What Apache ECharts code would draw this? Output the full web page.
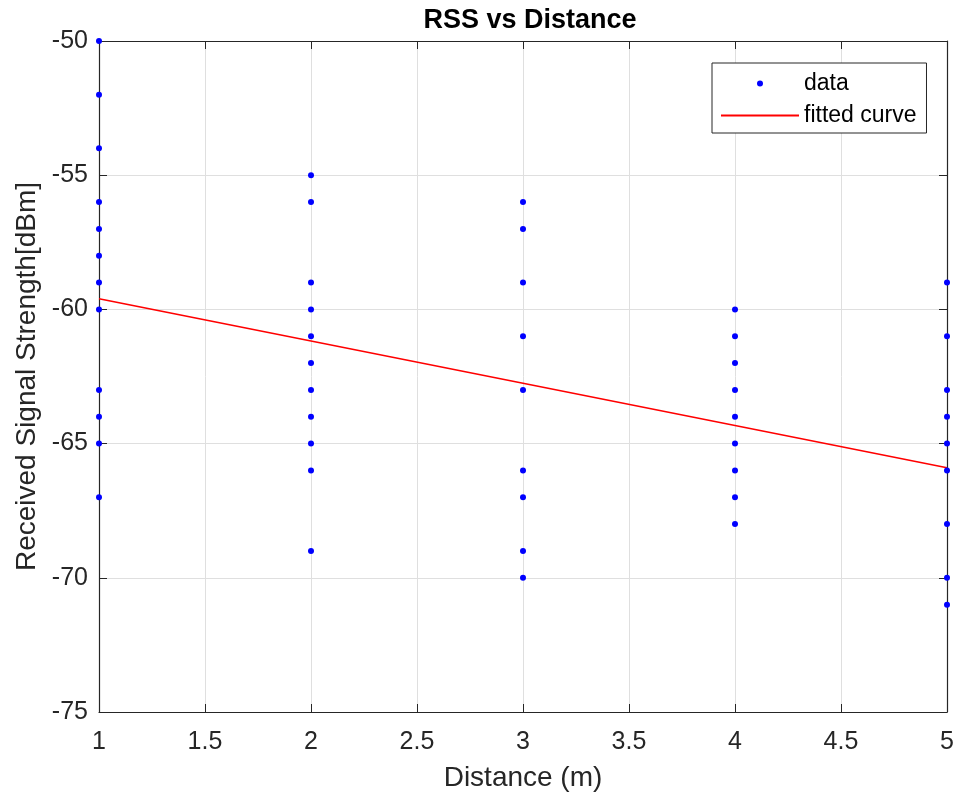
<!DOCTYPE html>
<html><head><meta charset="utf-8">
<script src="https://cdn.jsdelivr.net/npm/echarts@6/dist/echarts.min.js"></script>
<style>html,body{margin:0;padding:0;background:#fff}#c{width:957px;height:798px}</style>
</head><body><div id="c"></div>
<script>
// Measured data
var dist1 = [-50, -52, -54, -56, -57, -58, -59, -60, -63, -64, -65, -67];
var dist2 = [-55, -56, -59, -60, -61, -62, -63, -64, -65, -66, -69];
var dist3 = [-56, -57, -59, -61, -63, -66, -67, -69, -70];
var dist4 = [-60, -61, -62, -63, -64, -65, -66, -67, -68];
var dist5 = [-59, -61, -63, -64, -65, -66, -68, -70, -71];
var distances = [1, 2, 3, 4, 5];
var groups = [dist1, dist2, dist3, dist4, dist5];
// Fitted curve end points
var fitX = [1, 5];
var fitY = [-59.6, -65.9];

var scatterData = [];
groups.forEach(function (g, i) {
  g.forEach(function (v) { scatterData.push([distances[i], v]); });
});
var fitData = fitX.map(function (x, i) { return [x, fitY[i]]; });

var font = 'Liberation Sans, Arial, Helvetica, sans-serif';
var axisCol = '#262626';
var chart = echarts.init(document.getElementById('c'));
chart.setOption({
  animation: false,
  backgroundColor: '#fff',
  title: {
    text: 'RSS vs Distance', left: 525, top: 2, textAlign: 'center',
    textStyle: { fontFamily: font, fontSize: 27, fontWeight: 'bold', color: '#000' }
  },
  grid: { left: 99, right: 10, top: 41, bottom: 86, containLabel: false },
  legend: {
    orient: 'vertical', left: 712, top: 63,
    padding: [9, 10, 6, 8], itemGap: 9,
    itemWidth: 78, itemHeight: 6,
    borderColor: axisCol, borderWidth: 1, backgroundColor: '#fff', borderRadius: 0,
    textStyle: { fontFamily: font, fontSize: 23, color: '#000' },
    data: [
      { name: 'data', icon: 'circle' },
      { name: 'fitted curve', itemStyle: { opacity: 0 } }
    ]
  },
  xAxis: [{
    type: 'value', min: 1, max: 5, interval: 0.5,
    name: 'Distance (m)', nameLocation: 'middle', nameGap: 52,
    nameTextStyle: { fontFamily: font, fontSize: 28, color: '#262626' },
    axisLine: { show: true, onZero: false, lineStyle: { color: axisCol, width: 1.2 } },
    axisTick: { show: true, inside: true, length: 8, lineStyle: { color: axisCol } },
    axisLabel: { fontFamily: font, fontSize: 25, color: '#262626', margin: 18 },
    splitLine: { show: true, lineStyle: { color: '#dfdfdf', width: 1 } }
  }, {
    type: 'value', min: 1, max: 5, interval: 0.5, position: 'top',
    axisLine: { show: true, onZero: false, lineStyle: { color: axisCol, width: 1.2 } },
    axisTick: { show: true, inside: true, length: 8, lineStyle: { color: axisCol } },
    axisLabel: { show: false }, splitLine: { show: false }
  }],
  yAxis: [{
    type: 'value', min: -75, max: -50, interval: 5,
    name: 'Received Signal Strength[dBm]', nameLocation: 'middle', nameGap: 58,
    nameTextStyle: { fontFamily: font, fontSize: 28, color: '#262626' },
    axisLine: { show: true, onZero: false, lineStyle: { color: axisCol, width: 1.2 } },
    axisTick: { show: true, inside: true, length: 8, lineStyle: { color: axisCol } },
    axisLabel: { fontFamily: font, fontSize: 25, color: '#262626', margin: 11 },
    splitLine: { show: true, lineStyle: { color: '#dfdfdf', width: 1 } }
  }, {
    type: 'value', min: -75, max: -50, interval: 5, position: 'right',
    axisLine: { show: true, onZero: false, lineStyle: { color: axisCol, width: 1.2 } },
    axisTick: { show: true, inside: true, length: 8, lineStyle: { color: axisCol } },
    axisLabel: { show: false }, splitLine: { show: false }
  }],
  series: [{
    name: 'data', type: 'scatter', data: scatterData, symbol: 'circle', symbolSize: 6,
    itemStyle: { color: '#0000ff', opacity: 1 }, z: 5, clip: false
  }, {
    name: 'fitted curve', type: 'line', data: fitData, symbol: 'none', showSymbol: false,
    lineStyle: { color: '#ff0000', width: 1.5 }, itemStyle: { color: '#ff0000' }, z: 4
  }]
});
</script></body></html>
